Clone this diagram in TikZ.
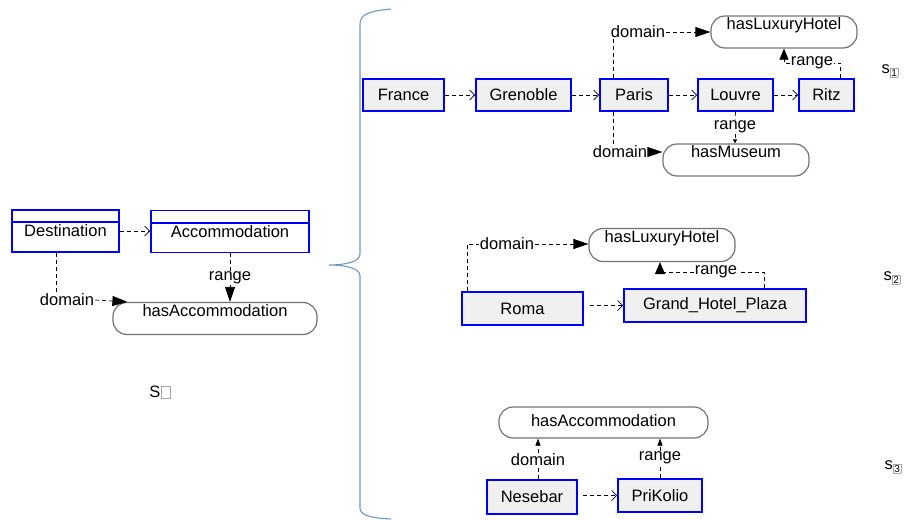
\documentclass[tikz,border=0pt]{standalone}
\usepackage{fontspec}
\setmainfont{Liberation Sans}
\usetikzlibrary{arrows.meta}
\definecolor{braceblue}{RGB}{110,150,200}
\newcommand{\subbox}[1]{\raisebox{-3pt}{\setlength{\fboxsep}{1pt}\setlength{\fboxrule}{0.5pt}\fcolorbox{gray!70}{white}{\fontsize{10}{10}\selectfont #1}}}

\begin{document}
\begin{tikzpicture}[x=1pt, y=-1pt, font=\fontsize{16.5}{19}\selectfont,
			cls/.style    = {draw=blue, line width=1.6pt, fill=white, inner sep=0pt, minimum height=42pt},
			inst/.style   = {draw=blue, line width=1.6pt, fill=gray!12, inner sep=0pt, minimum height=33pt},
			prop/.style   = {draw=gray!90!black, line width=1.2pt, rounded corners=14pt, inner sep=0pt, minimum height=32pt, text height=12pt, text depth=17pt},
			propc/.style  = {prop, text depth=4pt},
			lbl/.style    = {inner sep=1pt},
			dl/.style     = {black, line width=0.7pt, dash pattern=on 4pt off 3pt},
			oarr/.style   = {-{Straight Barb[length=5pt,width=10pt]}},
			farr/.style   = {-{Triangle[length=15pt,width=10pt]}},
			sarr/.style   = {-{Triangle[length=7pt,width=5pt]}},]

			\useasboundingbox (0,0) rectangle (906,520);

			%% SCHEMA ON THE LEFT
			\node[cls, minimum width=107pt] (dest) at (65.5,231) {Destination};
			\node[cls, minimum width=158pt] (acc) at (230,231.5) {Accommodation};
			\draw[blue, line width=1.6pt] ([yshift=-13pt]dest.north west) -- ([yshift=-13pt]dest.north east);
			\draw[blue, line width=1.6pt] ([yshift=-13pt]acc.north west) -- ([yshift=-13pt]acc.north east);
			\node[prop, minimum width=204pt] (hasAcc) at (215,318.5) {hasAccommodation};
			\node[lbl] (dom0) at (67,300) {domain};
			\node[lbl] (rng0) at (230,278) {range};
			\draw[dl, oarr] (dest.east) -- (dest.east -| acc.west);
			\draw[dl] ([xshift=-9pt]dest.south) -- ([xshift=-9pt]dest.south |- dom0.north);
			\draw[dl, farr] (dom0.east) -- ([xshift=15pt]hasAcc.north west);
			\draw[dl] (acc.south) -- (rng0.north);
			\draw[dl, farr] (rng0.south) -- (rng0.south |- hasAcc.north);
			\node (s0) at (160,392) {S\setlength{\fboxsep}{0pt}\setlength{\fboxrule}{0.5pt}\fcolorbox{gray!70}{white}{\rule{0pt}{11pt}\hspace{9pt}}};

			%% BRACE
			\draw[braceblue, line width=1.1pt] (391,9) .. controls (370,11) and (360,14) .. (360,24) -- (360,254)
				.. controls (360,262) and (345,265) .. (329,265) .. controls (345,265) and (360,268) .. (360,276)
				-- (360,508) .. controls (360,515) and (370,518) .. (391,519);

			%% S1
			\node[inst, minimum width=81pt, minimum height=32pt] (france) at (403.5,95) {France};
			\node[inst, minimum width=95pt, minimum height=32pt] (grenoble) at (523.5,95) {Grenoble};
			\node[inst, minimum width=68pt, minimum height=32pt] (paris) at (634,95) {Paris};
			\node[inst, minimum width=75pt, minimum height=32pt] (louvre) at (735.5,95) {Louvre};
			\node[inst, minimum width=55pt, minimum height=32pt] (ritz) at (826.5,95) {Ritz};
			\node[prop, minimum width=146pt] (hasLux1) at (784,32) {hasLuxuryHotel};
			\node[prop, minimum width=146pt] (hasMus) at (736,160) {hasMuseum};
			\node[lbl] (dom1) at (638,32) {domain};
			\node[lbl] (rng1) at (812,63) {range};
			\node[lbl] (dom2) at (620,152) {domain};
			\node[lbl] (rng2) at (735,127) {range};
			\draw[dl, oarr] (france) -- (grenoble);
			\draw[dl, oarr] (grenoble) -- (paris);
			\draw[dl, oarr] (paris) -- (louvre);
			\draw[dl, oarr] (louvre) -- (ritz);
			\draw[dl] ([xshift=-21pt]paris.north) -- ([xshift=-21pt]paris.north |- dom1.south);
			\draw[dl, farr] (dom1.east) -- (dom1.east -| hasLux1.west);
			\draw[dl] ([xshift=14pt]ritz.north) |- (rng1.east);
			\draw[dl, -{Triangle[length=11pt,width=9pt]}] (rng1.west) -| (hasLux1.south);
			\draw[dl] ([xshift=-21pt]paris.south) -- ([xshift=-21pt]paris.south |- dom2.north);
			\draw[dl, farr] (dom2.east) -- (dom2.east -| hasMus.west);
			\draw[dl] (louvre.south) -- (rng2.north);
			\draw[dl, -{Triangle[length=4pt,width=4pt]}] (rng2.south) -- (rng2.south |- hasMus.north);
			\node (s1) at (890,71) {s\subbox{1}};

			%% S2
			\node[prop, minimum width=146pt, minimum height=33pt] (hasLux2) at (662,245) {hasLuxuryHotel};
			\node[inst, minimum width=121pt] (roma) at (522.5,308.5) {Roma};
			\node[inst, minimum width=182pt] (ghp) at (715,305.5) {Grand\_Hotel\_Plaza};
			\node[lbl] (dom3) at (507,244) {domain};
			\node[lbl] (rng3) at (716,272) {range};
			\draw[dl, oarr, shorten <=6pt] (ghp.west -| roma.east) -- (ghp.west);
			\draw[dl] ([xshift=-55pt]roma.north) |- (dom3.west);
			\draw[dl, farr] (dom3.east) -- (dom3.east -| hasLux2.west);
			\draw[dl] ([xshift=49pt]ghp.north) |- (rng3.east);
			\draw[dl, -{Triangle[length=12pt,width=10pt]}] (rng3.west) -| ([xshift=-2pt]hasLux2.south);
			\node (s2) at (892,278) {s\subbox{2}};

			%% S3
			\node[propc, minimum width=209pt, minimum height=31pt] (hasAcc3) at (603.5,422.5) {hasAccommodation};
			\node[inst, minimum width=90pt, minimum height=34pt] (nese) at (532,497) {Nesebar};
			\node[inst, minimum width=84pt] (prik) at (660,495.5) {PriKolio};
			\node[lbl] (dom4) at (538,460) {domain};
			\node[lbl] (rng4) at (660,458) {range};
			\draw[dl, oarr, shorten <=5pt] (prik.west -| nese.east) -- (prik.west);
			\draw[dl] ([xshift=6pt]nese.north) -- (dom4.south);
			\draw[dl, sarr] (dom4.north) -- (dom4.north |- hasAcc3.south);
			\draw[dl] (prik.north) -- (rng4.south);
			\draw[dl, sarr] (rng4.north) -- (rng4.north |- hasAcc3.south);
			\node (s3) at (893,467) {s\subbox{3}};
\end{tikzpicture}
\end{document}
